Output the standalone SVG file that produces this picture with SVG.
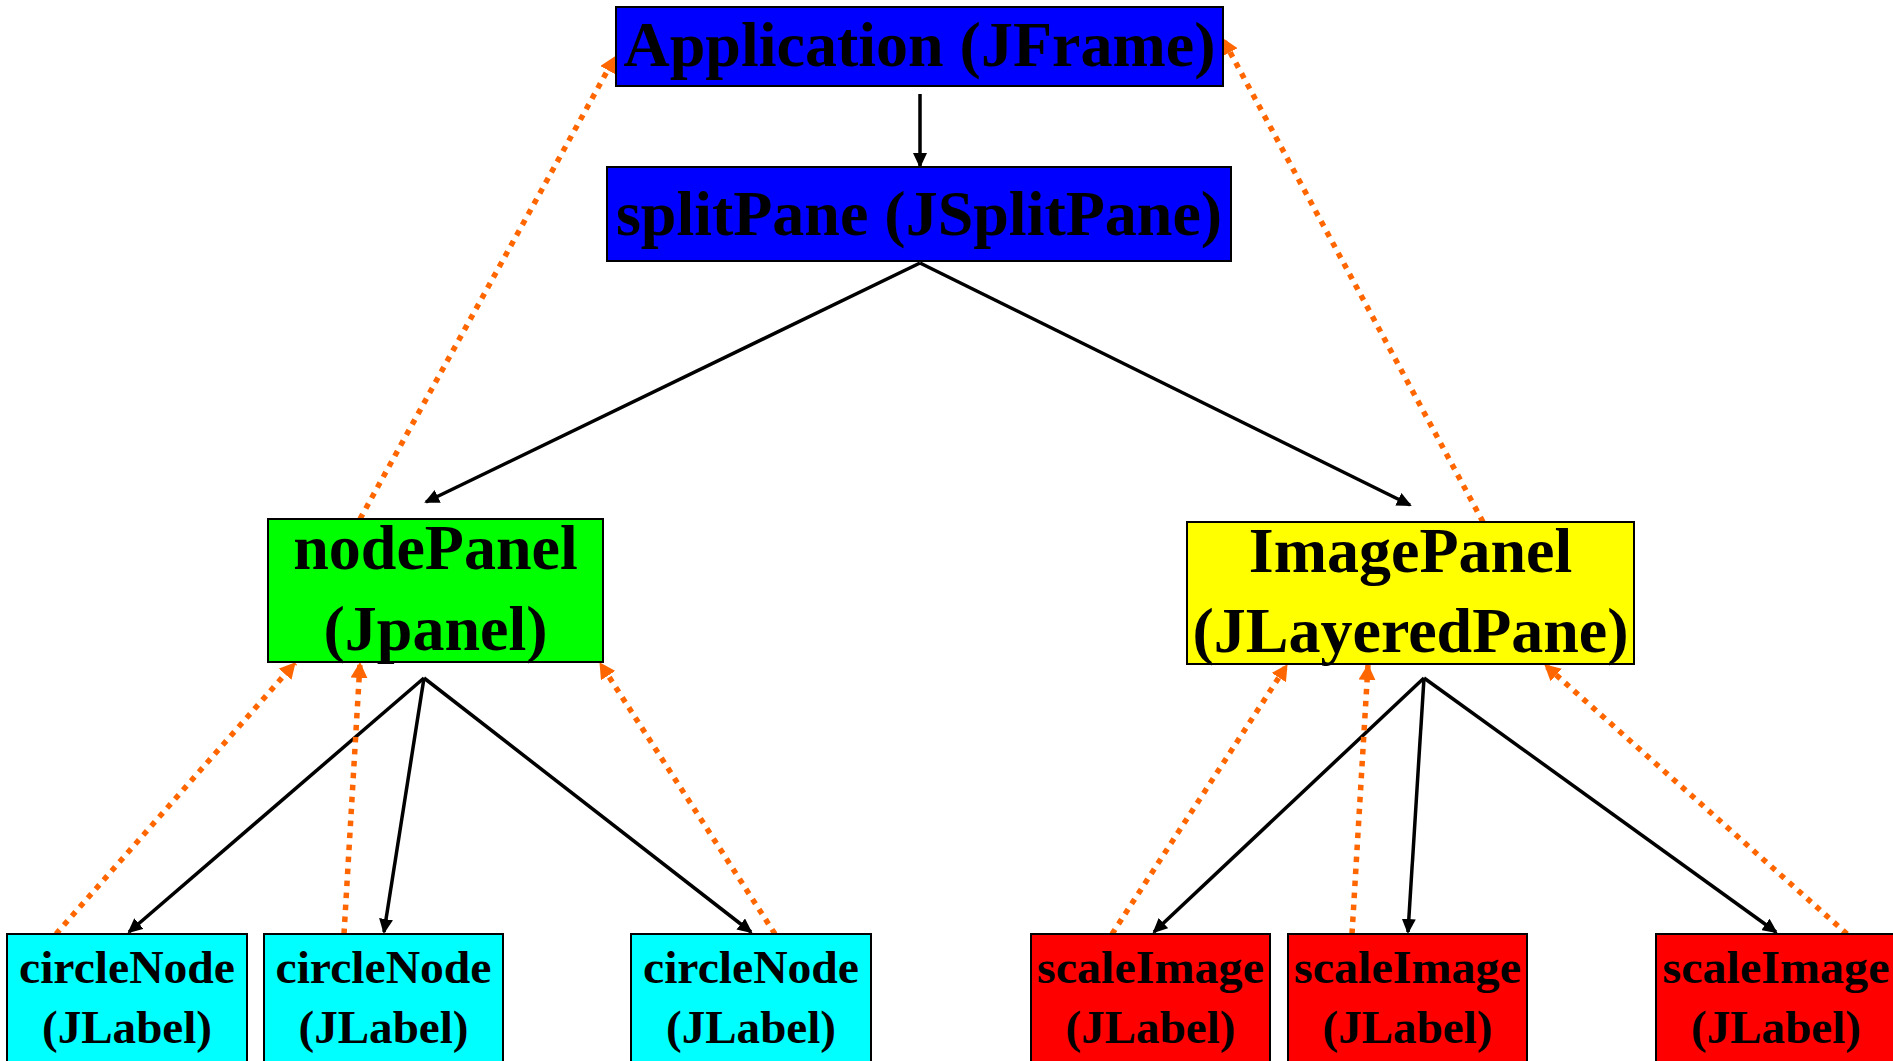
<svg xmlns="http://www.w3.org/2000/svg" width="1893" height="1061" viewBox="0 0 1893 1061">
<style>
.box{stroke:#000;stroke-width:2}
.t{font-family:"Liberation Serif","Times New Roman",serif;font-weight:bold;fill:#000;text-anchor:middle}
.big{font-size:64px}
.small{font-size:47px}
.solid{stroke:#000;stroke-width:3.5;fill:none;marker-end:url(#ab)}
.dot{stroke:#FF6600;stroke-width:5.5;fill:none;stroke-dasharray:5.5 6.5;marker-end:url(#ao)}
</style>
<defs>
<marker id="ab" markerUnits="userSpaceOnUse" markerWidth="15" markerHeight="14" refX="13" refY="7" orient="auto"><path d="M0,0 L15,7 L0,14 Z" fill="#000"/></marker>
<marker id="ao" markerUnits="userSpaceOnUse" markerWidth="16" markerHeight="17" refX="15" refY="8.5" orient="auto"><path d="M0,0 L16,8.5 L0,17 Z" fill="#FF6600"/></marker>
</defs>
<rect width="1893" height="1061" fill="#fff"/>
<g id="connectors">
<line class="solid" x1="920" y1="94" x2="920" y2="166"/>
<line class="solid" x1="920" y1="263" x2="426" y2="502"/>
<line class="solid" x1="920" y1="263" x2="1410" y2="505"/>
<line class="solid" x1="424" y1="678" x2="129" y2="932"/>
<line class="solid" x1="424" y1="678" x2="384" y2="932"/>
<line class="solid" x1="424" y1="678" x2="751" y2="932"/>
<line class="solid" x1="1424" y1="678" x2="1154" y2="932"/>
<line class="solid" x1="1424" y1="678" x2="1408" y2="932"/>
<line class="solid" x1="1424" y1="678" x2="1776" y2="932"/>
<line class="dot" x1="360" y1="519" x2="615" y2="57"/>
<line class="dot" x1="1483" y1="522" x2="1223" y2="39"/>
<line class="dot" x1="56" y1="934" x2="295" y2="663"/>
<line class="dot" x1="344" y1="934" x2="360" y2="663"/>
<line class="dot" x1="775" y1="934" x2="600" y2="663"/>
<line class="dot" x1="1112" y1="934" x2="1287" y2="665"/>
<line class="dot" x1="1352" y1="934" x2="1368" y2="665"/>
<line class="dot" x1="1847" y1="934" x2="1545" y2="665"/>
</g>
<g id="application">
<rect class="box" x="616" y="7" width="607" height="79" fill="#0000FF"/>
<text class="t big" x="919.5" y="66">Application (JFrame)</text>
</g>
<g id="splitPane">
<rect class="box" x="607" y="167" width="624" height="94" fill="#0000FF"/>
<text class="t big" x="919" y="235">splitPane (JSplitPane)</text>
</g>
<g id="nodePanel">
<rect class="box" x="268" y="519" width="335" height="143" fill="#00FF00"/>
<text class="t big" x="435.5" y="569">nodePanel</text>
<text class="t big" x="435.5" y="650">(Jpanel)</text>
</g>
<g id="imagePanel">
<rect class="box" x="1187" y="522" width="447" height="142" fill="#FFFF00"/>
<text class="t big" x="1410.5" y="572">ImagePanel</text>
<text class="t big" x="1410.5" y="652">(JLayeredPane)</text>
</g>
<g id="circleNode1">
<rect class="box" x="7" y="934" width="240" height="140" fill="#00FFFF"/>
<text class="t small" x="127" y="983" textLength="216" lengthAdjust="spacingAndGlyphs">circleNode</text>
<text class="t small" x="127" y="1043" textLength="170" lengthAdjust="spacingAndGlyphs">(JLabel)</text>
</g>
<g id="circleNode2">
<rect class="box" x="264" y="934" width="239" height="140" fill="#00FFFF"/>
<text class="t small" x="383.5" y="983" textLength="216" lengthAdjust="spacingAndGlyphs">circleNode</text>
<text class="t small" x="383.5" y="1043" textLength="170" lengthAdjust="spacingAndGlyphs">(JLabel)</text>
</g>
<g id="circleNode3">
<rect class="box" x="631" y="934" width="240" height="140" fill="#00FFFF"/>
<text class="t small" x="751" y="983" textLength="216" lengthAdjust="spacingAndGlyphs">circleNode</text>
<text class="t small" x="751" y="1043" textLength="170" lengthAdjust="spacingAndGlyphs">(JLabel)</text>
</g>
<g id="scaleImage1">
<rect class="box" x="1031" y="934" width="239" height="140" fill="#FF0000"/>
<text class="t small" x="1150.5" y="983" textLength="227" lengthAdjust="spacingAndGlyphs">scaleImage</text>
<text class="t small" x="1150.5" y="1043" textLength="170" lengthAdjust="spacingAndGlyphs">(JLabel)</text>
</g>
<g id="scaleImage2">
<rect class="box" x="1288" y="934" width="239" height="140" fill="#FF0000"/>
<text class="t small" x="1407.5" y="983" textLength="227" lengthAdjust="spacingAndGlyphs">scaleImage</text>
<text class="t small" x="1407.5" y="1043" textLength="170" lengthAdjust="spacingAndGlyphs">(JLabel)</text>
</g>
<g id="scaleImage3">
<rect class="box" x="1656" y="934" width="240" height="140" fill="#FF0000"/>
<text class="t small" x="1776" y="983" textLength="227" lengthAdjust="spacingAndGlyphs">scaleImage</text>
<text class="t small" x="1776" y="1043" textLength="170" lengthAdjust="spacingAndGlyphs">(JLabel)</text>
</g>
</svg>
